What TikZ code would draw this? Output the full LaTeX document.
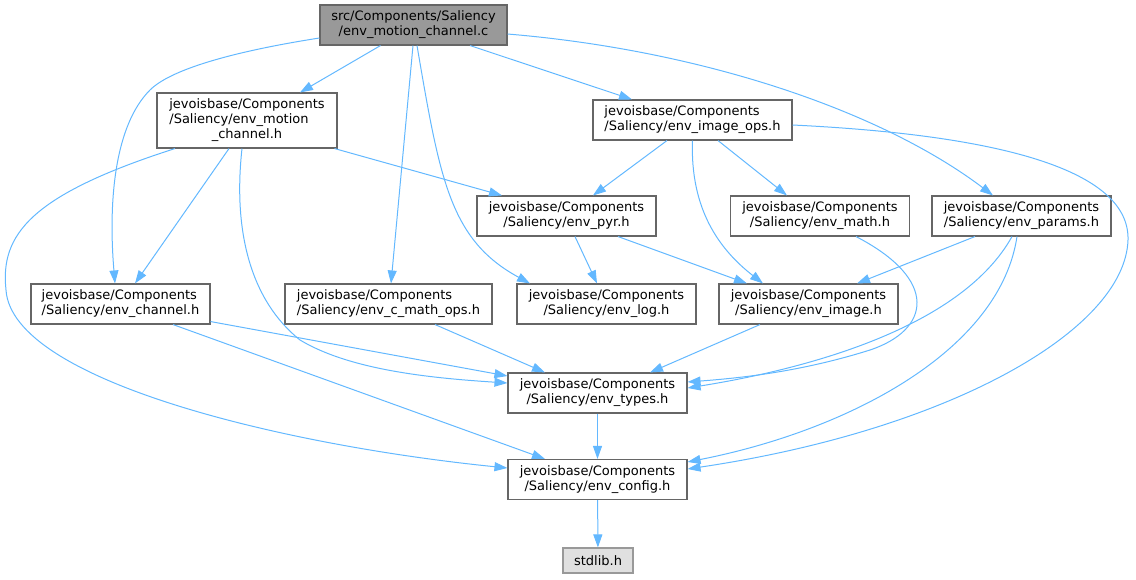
\documentclass[tikz,border=0pt]{standalone}
\usepackage{fontspec}
\setmainfont{DejaVu Sans}
\usetikzlibrary{arrows.meta,calc}
\definecolor{edgec}{HTML}{63B8FF}
\definecolor{boxc}{HTML}{666666}
\definecolor{rootc}{HTML}{999999}
\definecolor{sysc}{HTML}{E0E0E0}
\newcommand\mytwo[2]{\begin{tabular}{@{}l@{}}#1\\\multicolumn{1}{@{}c@{}}{#2}\end{tabular}}
\newcommand\mythree[3]{\begin{tabular}{@{}l@{}}#1\\#2\\\multicolumn{1}{@{}c@{}}{#3}\end{tabular}}
\begin{document}
\begin{tikzpicture}[x=1pt,y=-1pt,
  box/.style={draw=boxc, line width=1.1pt, fill=white, inner sep=0pt, minimum height=40pt, minimum width=179pt, font=\fontsize{13}{15}\selectfont, text=black},
  dep/.style={draw=edgec, line width=1pt, -{Triangle[length=13pt,width=9pt]}}]
\useasboundingbox (0,0) rectangle (1136,579);
\node[box, minimum width=187pt, fill=rootc] (root) at (413.5,25) {\mytwo{src/Components/Saliency}{/env\_motion\_channel.c}};
\node[box, minimum width=180pt, minimum height=55pt] (motionh) at (247,120.5) {\mythree{jevoisbase/Components}{/Saliency/env\_motion}{\_channel.h}};
\node[box, minimum width=199pt] (imgops) at (692.5,120) {\mytwo{jevoisbase/Components}{/Saliency/env\_image\_ops.h}};
\node[box] (pyr) at (566.5,216) {\mytwo{jevoisbase/Components}{/Saliency/env\_pyr.h}};
\node[box] (math) at (820,216) {\mytwo{jevoisbase/Components}{/Saliency/env\_math.h}};
\node[box] (params) at (1021.5,216) {\mytwo{jevoisbase/Components}{/Saliency/env\_params.h}};
\node[box] (channel) at (120.5,304) {\mytwo{jevoisbase/Components}{/Saliency/env\_channel.h}};
\node[box, minimum width=207pt] (cmath) at (388.5,304) {\mytwo{jevoisbase/Components}{/Saliency/env\_c\_math\_ops.h}};
\node[box] (log) at (606.5,304) {\mytwo{jevoisbase/Components}{/Saliency/env\_log.h}};
\node[box] (image) at (808.5,304) {\mytwo{jevoisbase/Components}{/Saliency/env\_image.h}};
\node[box] (types) at (597.5,393) {\mytwo{jevoisbase/Components}{/Saliency/env\_types.h}};
\node[box] (config) at (597.5,479.5) {\mytwo{jevoisbase/Components}{/Saliency/env\_config.h}};
\node[box, draw=rootc, fill=sysc, minimum width=70pt, minimum height=25pt] (stdlib) at (598,560.5) {stdlib.h};
% root edges
\draw[dep] ([xshift=-33pt]root.south) -- ([xshift=53pt]motionh.north);
\draw[dep] ([yshift=-13pt]root.west) .. controls (230,52) and (170,70) .. (150,90) .. controls (115,125) and (108,200) .. ([xshift=-5.5pt]channel.north);
\draw[dep] ([xshift=-0.5pt]root.south) -- ([xshift=2.5pt]cmath.north);
\draw[dep] ([xshift=3.5pt]root.south) .. controls (440,180) and (450,240) .. ([xshift=-76.5pt]log.north);
\draw[dep] ([xshift=56.5pt]root.south) -- ([xshift=-60.5pt]imgops.north);
\draw[dep] ([yshift=-9pt]root.east) .. controls (700,50) and (880,110) .. ([xshift=-28.5pt]params.north);
% motion_channel.h edges
\draw[dep] ([xshift=-18pt]motionh.south) -- ([xshift=14.5pt]channel.north);
\draw[dep] ([xshift=-5pt]motionh.south) .. controls (233,230) and (250,300) .. (300,340) .. controls (350,370) and (430,378) .. ([yshift=10pt]types.west);
\draw[dep] ([xshift=-72pt]motionh.south) .. controls (30,195) and (0,235) .. (6,290) .. controls (12,380) and (280,445) .. ([yshift=11.5pt]config.west);
\draw[dep] ([xshift=-3pt]motionh.south east) -- ([xshift=-64.5pt]pyr.north);
% image_ops edges
\draw[dep] ([xshift=-25.5pt]imgops.south) -- ([xshift=26.5pt]pyr.north);
\draw[dep] (imgops.south) .. controls (690,210) and (720,250) .. ([xshift=-45.5pt]image.north);
\draw[dep] ([xshift=25.5pt]imgops.south) -- ([xshift=-33pt]math.north);
\draw[dep] ([yshift=-5pt]imgops.east) .. controls (1000,135) and (1130,170) .. (1128,240) .. controls (1125,330) and (950,430) .. ([yshift=10.5pt]config.east);
% pyr edges
\draw[dep] ([xshift=8.5pt]pyr.south) -- ([xshift=-9.5pt]log.north);
\draw[dep] ([xshift=51.5pt]pyr.south) -- ([xshift=-61.5pt]image.north);
% math edges
\draw[dep] ([xshift=36pt]math.south) .. controls (940,280) and (930,330) .. (870,350) .. controls (800,372) and (740,378) .. ([yshift=11pt]types.east);
% params edges
\draw[dep] ([xshift=-46.5pt]params.south) -- ([xshift=48.5pt]image.north);
\draw[dep] ([xshift=-9.5pt]params.south) .. controls (960,330) and (800,370) .. ([yshift=5pt]types.east);
\draw[dep] ([xshift=-4.5pt]params.south) .. controls (1000,350) and (850,430) .. ([yshift=17.5pt]config.east);
% channel edges
\draw[dep] ([yshift=3pt]channel.south east) -- ([yshift=17pt]types.west);
\draw[dep] ([xshift=52.5pt]channel.south) -- ([xshift=-52.5pt]config.north);
% others
\draw[dep] ([xshift=46.5pt]cmath.south) -- ([xshift=-52.5pt]types.north);
\draw[dep] ([xshift=-48.5pt]image.south) -- ([xshift=52.5pt]types.north);
\draw[dep] (types) -- (config);
\draw[dep] (config) -- (stdlib);
\end{tikzpicture}
\end{document}
